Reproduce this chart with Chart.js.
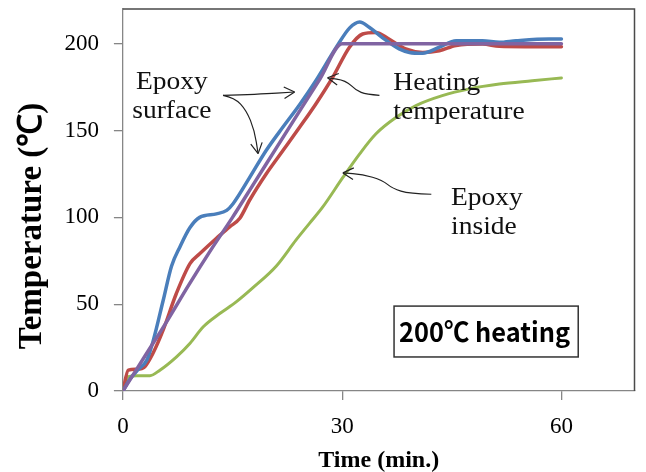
<!DOCTYPE html>
<html>
<head>
<meta charset="utf-8">
<script src="https://cdn.jsdelivr.net/npm/chart.js@4"></script>
<style>
  html, body { margin: 0; padding: 0; background: #fff; }
</style>
</head>
<body>
<canvas id="chart" width="646" height="472"></canvas>
<script>
// data (time in min, temperature in °C)
const surfaceATime = [0, 1, 2, 3.3, 4.15, 5.5, 6.66, 7.8, 9.16, 10.5, 12.8, 14.2, 15.1, 17.35, 19.6, 21.9, 24.2, 26.4, 29.2, 31, 32.4, 33.7, 35.5, 37.8, 39.2, 41, 43.3, 45.6, 49.2, 51.5, 53.8, 58.3, 60];
const surfaceATemp = [0, 7, 12, 18, 29, 52, 72, 83, 94, 100, 102, 104, 108, 123, 138.5, 152, 165, 178.7, 198, 209, 212.5, 209.5, 203.5, 197, 195, 194.5, 198, 201.7, 201.7, 200.8, 201.7, 202.7, 202.7];

const surfaceBTime = [0, 0.74, 1.9, 3, 4.15, 5.5, 7.3, 9.2, 10.5, 12.8, 14.6, 16, 17.35, 19.6, 21.9, 24.2, 26.4, 28.7, 31, 32.8, 34.6, 36.4, 38.7, 41, 43.3, 45.6, 49.2, 51.5, 55, 60];
const surfaceBTemp = [0, 12, 12.5, 14, 22, 35, 56, 73.5, 79, 88, 94.5, 99.5, 110, 125, 138.5, 152, 165.3, 180.6, 198, 205.6, 206.5, 202.7, 197, 195, 196, 199, 199.8, 198.5, 198.3, 198.3];

const heatingTime = [0, 3, 6, 9, 12, 15, 18, 21, 24, 27, 30, 40, 50, 60];
const heatingTemp = [0, 20, 40, 61, 81, 100, 120, 140, 160, 180, 200, 200, 200, 200];

const insideTime = [0, 0.74, 1.9, 3.7, 5.06, 7.34, 9.16, 11, 13.25, 15.5, 17.8, 21, 23.7, 25.5, 27.35, 30.1, 32.4, 34.6, 37.4, 40.1, 43.7, 47.4, 51.5, 56, 60];
const insideTemp = [0, 8.2, 8.8, 8.8, 12, 19.7, 27.4, 37, 44.6, 51.3, 59.5, 72, 87, 96.4, 106, 123, 136.6, 148, 157.6, 164.4, 170.1, 174, 176.8, 178.7, 180.3];

const xTicks = [0, 30, 60];
const yTicks = [0, 50, 100, 150, 200];

const SERIF = '"Liberation Serif", "Times New Roman", serif';

const pts = (xs, ys) => xs.map((x, i) => ({ x: x, y: ys[i] }));

// annotation arrows, in data units
const arrows = [
  [[13.7, 170.3], [18.6, 170.8], [23.5, 172.2]],
  [[13.7, 170.3], [15.3, 168.9], [16.9, 161.6], [18.0, 150.1], [18.5, 136.7]],
  [[35.1, 170.3], [33.3, 170.8], [31.9, 173.1], [30.5, 178.9], [28.0, 180.4]],
  [[42.2, 113.3], [39.2, 113.7], [36.9, 116.6], [35.5, 121.4], [32.8, 124.8], [30.1, 125.6]]
];

const labels = [
  { x: 6.7, y: 174.1, lines: ['Epoxy', 'surface'], align: 'center' },
  { x: 37.0, y: 173.5, lines: ['Heating', 'temperature'], align: 'left' },
  { x: 44.9, y: 107.0, lines: ['Epoxy', 'inside'], align: 'left' }
];

const annotate = {
  id: 'annotate',
  afterDraw(chart) {
    const { ctx, chartArea: a, scales: { x, y } } = chart;
    const P = (p) => [x.getPixelForValue(p[0]), y.getPixelForValue(p[1])];

    // top and right frame
    ctx.save();
    ctx.strokeStyle = '#4a4a4a';
    ctx.lineWidth = 1.5;
    ctx.beginPath();
    ctx.moveTo(a.left, a.top);
    ctx.lineTo(a.right, a.top);
    ctx.lineTo(a.right, a.bottom);
    ctx.stroke();

    // y axis title, sits a bit below the middle like the original
    ctx.save();
    ctx.fillStyle = '#000';
    ctx.font = 'bold 33px ' + SERIF;
    ctx.textAlign = 'center';
    ctx.textBaseline = 'middle';
    ctx.translate(32, 226);
    ctx.rotate(-Math.PI / 2);
    ctx.fillText('Temperature (℃)', 0, 0);
    ctx.restore();

    // text labels
    ctx.fillStyle = '#111';
    ctx.font = '25px ' + SERIF;
    ctx.textBaseline = 'alphabetic';
    labels.forEach((l) => {
      const [px, py] = P([l.x, l.y]);
      l.lines.forEach((t, i) => {
        ctx.save();
        ctx.translate(px, py + i * 29);
        ctx.scale(1.1, 1);
        ctx.textAlign = l.align;
        ctx.fillText(t, 0, 0);
        ctx.restore();
      });
    });

    // arrows
    ctx.strokeStyle = '#222';
    ctx.lineWidth = 1.2;
    arrows.forEach((arr) => {
      const p = arr.map(P);
      ctx.beginPath();
      ctx.moveTo(p[0][0], p[0][1]);
      for (let i = 1; i < p.length - 1; i++) {
        const mx = (p[i][0] + p[i + 1][0]) / 2, my = (p[i][1] + p[i + 1][1]) / 2;
        ctx.quadraticCurveTo(p[i][0], p[i][1], mx, my);
      }
      const e = p[p.length - 1], b = p[p.length - 2];
      ctx.lineTo(e[0], e[1]);
      ctx.stroke();
      const ang = Math.atan2(e[1] - b[1], e[0] - b[0]);
      ctx.beginPath();
      [-0.5, 0.5].forEach((d) => {
        ctx.moveTo(e[0], e[1]);
        ctx.lineTo(e[0] - 12 * Math.cos(ang + d), e[1] - 12 * Math.sin(ang + d));
      });
      ctx.stroke();
    });

    // boxed note
    const [bx1, by1] = P([37.1, 48.9]);
    const [bx2, by2] = P([62.3, 19.6]);
    ctx.strokeStyle = '#333';
    ctx.lineWidth = 1.5;
    ctx.strokeRect(bx1, by1, bx2 - bx1, by2 - by1);
    ctx.fillStyle = '#000';
    ctx.font = 'bold 27px "Noto Sans CJK KR", "Noto Sans", sans-serif';
    ctx.textAlign = 'left';
    const txt = '200℃ heating';
    const w = ctx.measureText(txt).width;
    ctx.save();
    ctx.translate(bx1 + 5, by1 + 36);
    ctx.scale(171 / w, 1);
    ctx.fillText(txt, 0, 0);
    ctx.restore();
    ctx.restore();
  }
};

new Chart(document.getElementById('chart'), {
  type: 'line',
  data: {
    datasets: [
      { data: pts(heatingTime, heatingTemp), borderColor: '#8064a2', borderWidth: 3.5, order: 0 },
      { data: pts(surfaceATime, surfaceATemp), borderColor: '#4a7ebb', borderWidth: 3.5, order: 1 },
      { data: pts(surfaceBTime, surfaceBTemp), borderColor: '#be4b48', borderWidth: 3.5, order: 2 },
      { data: pts(insideTime, insideTemp), borderColor: '#98b954', borderWidth: 3, order: 3 }
    ]
  },
  options: {
    responsive: false,
    animation: false,
    layout: { padding: { top: 9, right: 11.5, left: 0, bottom: 0 } },
    plugins: { legend: { display: false }, tooltip: { enabled: false } },
    elements: {
      point: { radius: 0 },
      line: { cubicInterpolationMode: 'monotone', fill: false, borderCapStyle: 'round', borderJoinStyle: 'round' }
    },
    scales: {
      x: {
        type: 'linear',
        min: 0,
        max: 70,
        afterBuildTicks: (s) => { s.ticks = xTicks.map((v) => ({ value: v })); },
        afterFit: (s) => { s.height = 81; s.paddingLeft = 0; s.paddingRight = 0; },
        grid: { drawOnChartArea: false, tickLength: 9, color: '#868686', lineWidth: 1.3 },
        border: { color: '#868686', width: 1.3 },
        ticks: { font: { family: SERIF, size: 23 }, color: '#000', padding: 13, maxRotation: 0 },
        title: {
          display: true,
          text: 'Time (min.)',
          color: '#000',
          font: { family: SERIF, size: 24, weight: 'bold', lineHeight: 0.9 },
          padding: 0
        }
      },
      y: {
        min: 0,
        max: 220,
        afterBuildTicks: (s) => { s.ticks = yTicks.map((v) => ({ value: v })); },
        afterFit: (s) => { s.width = 122.9; s.paddingTop = 0; s.paddingBottom = 0; },
        grid: { drawOnChartArea: false, tickLength: 9, color: '#868686', lineWidth: 1.3 },
        border: { color: '#868686', width: 1.3 },
        ticks: { font: { family: SERIF, size: 23 }, color: '#000', padding: 15 }
      }
    }
  },
  plugins: [annotate]
});
</script>
</body>
</html>
